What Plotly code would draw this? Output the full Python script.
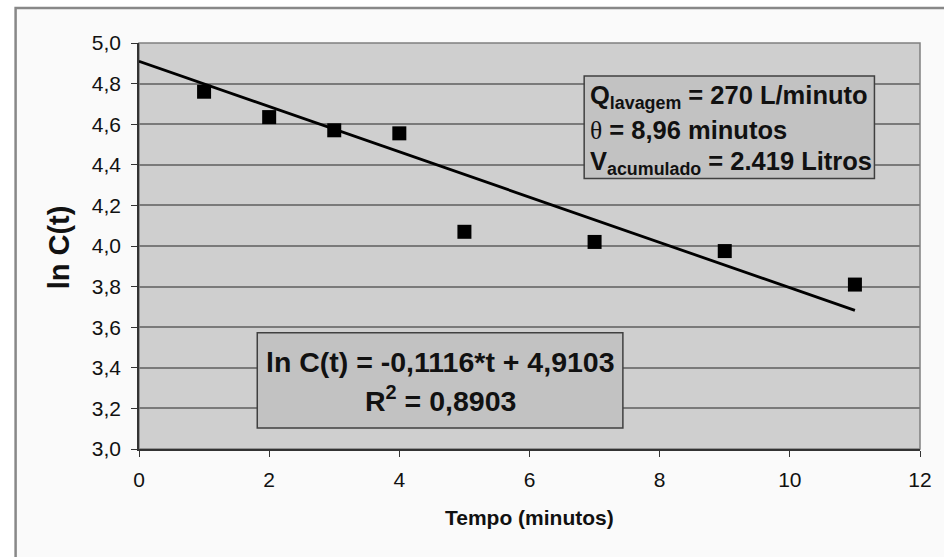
import plotly.graph_objects as go

# Data
tempo = [1, 2, 3, 4, 5, 7, 9, 11]
ln_c = [4.76, 4.635, 4.57, 4.555, 4.07, 4.02, 3.975, 3.81]
slope = -0.1116
intercept = 4.9103
fit_x = [0, 11]
fit_y = [intercept + slope * t for t in fit_x]
y_ticks = [3.0, 3.2, 3.4, 3.6, 3.8, 4.0, 4.2, 4.4, 4.6, 4.8, 5.0]
x_ticks = [0, 2, 4, 6, 8, 10, 12]

FONT = "Liberation Sans, Arial, sans-serif"
TXT = "#111111"

fig = go.Figure()
fig.add_trace(go.Scatter(x=fit_x, y=fit_y, mode="lines",
                         line=dict(color="black", width=2.8), showlegend=False))
fig.add_trace(go.Scatter(x=tempo, y=ln_c, mode="markers",
                         marker=dict(symbol="square", size=14, color="black"),
                         showlegend=False))

shapes = [
    # outer chart frame
    dict(type="rect", xref="paper", yref="paper", x0=-0.158, x1=1.2, y0=-0.5, y1=1.086,
         fillcolor="#fafafa", line=dict(color="#888888", width=2.5), layer="below"),
    # plot area
    dict(type="rect", xref="x domain", yref="y domain", x0=0, x1=1, y0=0, y1=1,
         fillcolor="#cfcfcf", line=dict(color="#808080", width=1.5), layer="below"),
    # parameter box
    dict(type="rect", xref="x", yref="y", x0=6.84, x1=11.30, y0=4.333, y1=4.837,
         fillcolor="#c2c2c2", line=dict(color="#404040", width=1.5), layer="above"),
    # equation box
    dict(type="rect", xref="x", yref="y", x0=1.817, x1=7.435, y0=3.104, y1=3.573,
         fillcolor="#c2c2c2", line=dict(color="#404040", width=1.5), layer="above"),
]

annotations = [
    dict(x=-0.102, y=0.4975, xref="paper", yref="paper", text="<b>ln C(t)</b>",
         textangle=-90, showarrow=False, xanchor="center", yanchor="middle",
         font=dict(family=FONT, size=29, color=TXT)),
    dict(x=0.5, y=-0.168, xref="paper", yref="paper", text="<b>Tempo (minutos)</b>",
         showarrow=False, xanchor="center", yanchor="middle",
         font=dict(family=FONT, size=21, color=TXT)),
    dict(x=6.90, y=4.733, xref="x", yref="y", xanchor="left", yanchor="middle",
         text="<b>Q<sub>lavagem</sub> = 270 L/minuto</b>", showarrow=False,
         font=dict(family=FONT, size=25.5, color=TXT)),
    dict(x=6.90, y=4.570, xref="x", yref="y", xanchor="left", yanchor="middle",
         text="<span style=\"font-family:'Liberation Serif', serif\">θ</span><b> = 8,96 minutos</b>",
         showarrow=False, font=dict(family=FONT, size=25.5, color=TXT)),
    dict(x=6.90, y=4.407, xref="x", yref="y", xanchor="left", yanchor="middle",
         text="<b>V<sub>acumulado</sub> = 2.419 Litros</b>", showarrow=False,
         font=dict(family=FONT, size=25.5, color=TXT)),
    dict(x=4.626, y=3.43, xref="x", yref="y", xanchor="center", yanchor="middle",
         text="<b>ln C(t) = -0,1116*t + 4,9103</b>", showarrow=False,
         font=dict(family=FONT, size=28.5, color=TXT)),
    dict(x=4.626, y=3.245, xref="x", yref="y", xanchor="center", yanchor="middle",
         text="<b>R<sup>2</sup> = 0,8903</b>", showarrow=False,
         font=dict(family=FONT, size=28.5, color=TXT)),
]

fig.update_layout(
    width=944, height=557,
    margin=dict(l=139, r=19.5, t=43, b=108),
    paper_bgcolor="white", plot_bgcolor="rgba(0,0,0,0)",
    separators=",.",
    shapes=shapes, annotations=annotations,
    font=dict(family=FONT, size=21, color=TXT),
    xaxis=dict(range=[0, 12], tickvals=x_ticks, ticks="outside", ticklen=6,
               tickcolor="#333333", showgrid=False, zeroline=False,
               showline=True, linecolor="#333333", linewidth=1.5,
               ticklabelstandoff=5, tickfont=dict(size=21)),
    yaxis=dict(range=[3.0, 5.0], tickvals=y_ticks, tickformat=".1f",
               ticks="outside", ticklen=6, tickcolor="#333333",
               showgrid=True, gridcolor="#7a7a7a", gridwidth=1.5, zeroline=False,
               showline=True, linecolor="#333333", linewidth=1.5,
               ticklabelstandoff=6, tickfont=dict(size=21)),
)

fig.write_html("out.html")
